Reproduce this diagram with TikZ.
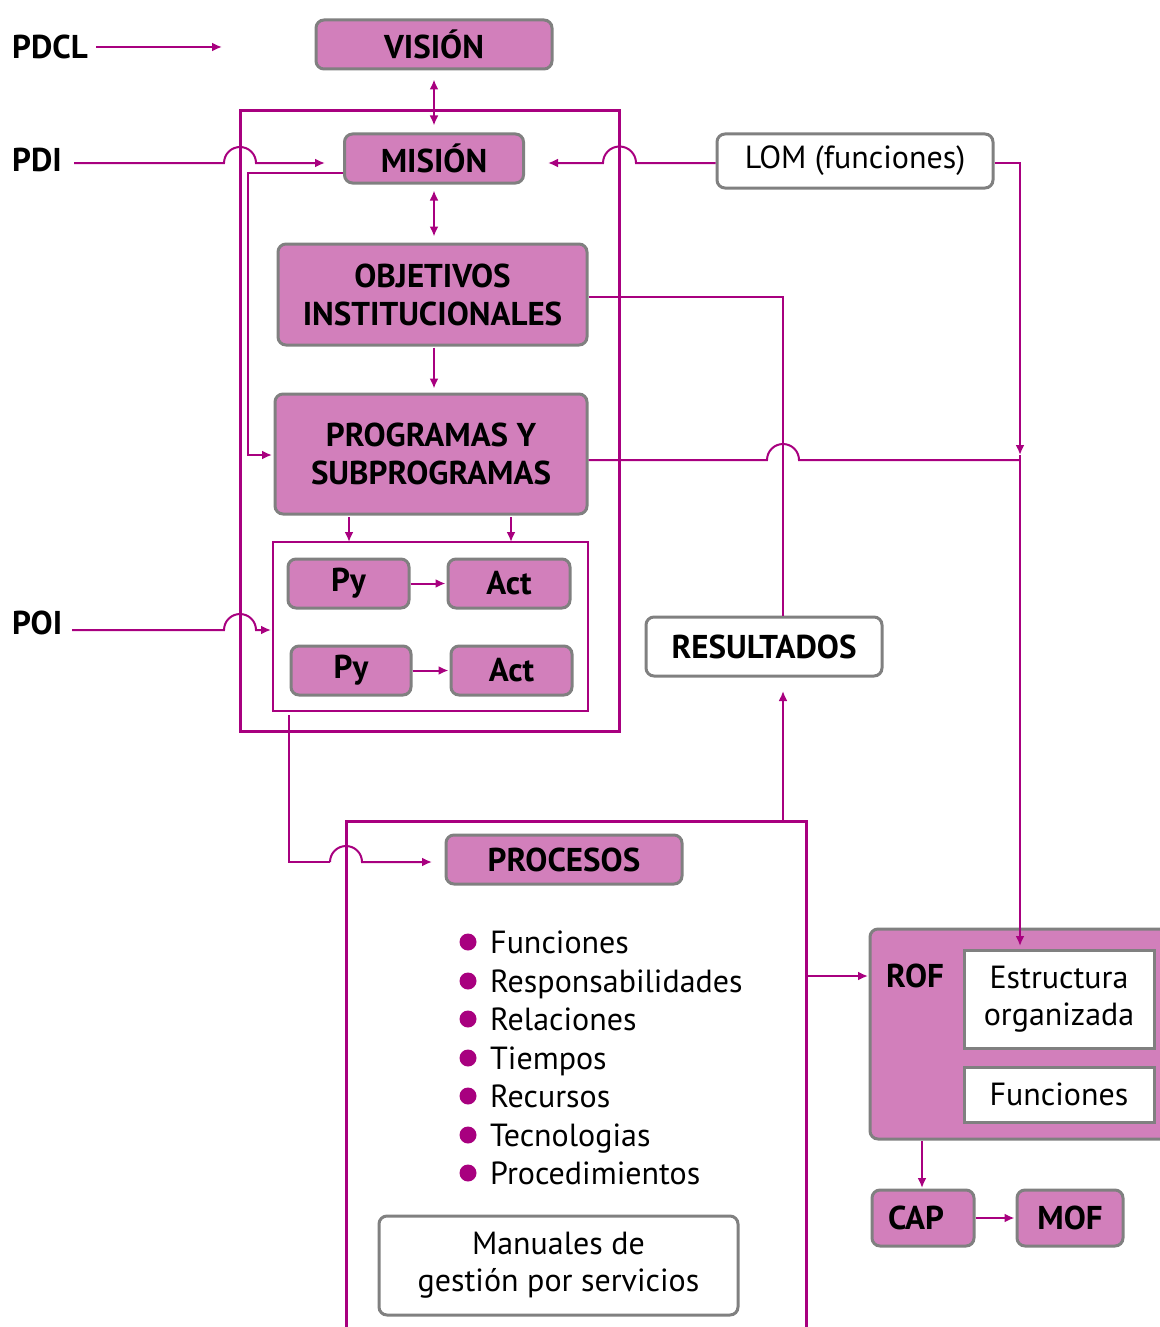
\documentclass[tikz,border=0pt]{standalone}
\usepackage{fontspec}
\setmainfont{PT Sans}
\usetikzlibrary{arrows.meta}
\definecolor{mag}{HTML}{A8007F}
\definecolor{pinkfill}{HTML}{D27FBB}
\definecolor{boxgray}{HTML}{808080}
\begin{document}
\begin{tikzpicture}[x=1pt,y=-1pt,
  pinkbox/.style={draw=boxgray, line width=3pt, fill=pinkfill, rounded corners=8pt,
    font=\fontsize{33}{38}\selectfont\bfseries, align=center, inner sep=0pt},
  whitebox/.style={draw=boxgray, line width=3pt, fill=white, rounded corners=8pt,
    font=\fontsize{32}{37}\selectfont, align=center, inner sep=0pt},
  squarebox/.style={whitebox, rounded corners=0pt},
  conn/.style={draw=mag, line width=2pt},
  arr/.style={conn, -{Latex[length=10pt,width=9pt]}},
  darr/.style={conn, {Latex[length=10pt,width=9pt]}-{Latex[length=10pt,width=9pt]}},
  frame/.style={draw=mag, line width=3pt},
  plan/.style={font=\fontsize{33}{38}\selectfont\bfseries, anchor=west, inner sep=0pt},
  item/.style={font=\fontsize{32}{36}\selectfont, anchor=base west, inner sep=0pt},
  bullet/.style={circle, fill=mag, minimum size=17pt, inner sep=0pt},
]
\useasboundingbox (0,0) rectangle (1159,1327);

% frames
\draw[frame] (240,111) rectangle (619,731);
\draw[frame, line width=2pt] (273,542) rectangle (588,711);
\draw[frame] (346,821) rectangle (806,1345);

% plan labels
\node[plan] (pdcl) at (12,47) {PDCL};
\node[plan] (pdi) at (12,160) {PDI};
\node[plan] (poi) at (12,623) {POI};

% main column
\node[pinkbox, minimum width=236pt, minimum height=49pt] (vision) at (434,44.5) {VISIÓN};
\node[pinkbox, minimum width=179pt, minimum height=49pt] (mision) at (434,158.5) {MISIÓN};
\node[pinkbox, minimum width=309pt, minimum height=101pt] (objetivos) at (432.5,294.5) {OBJETIVOS\\INSTITUCIONALES};
\node[pinkbox, minimum width=312pt, minimum height=120pt] (programas) at (431,454) {PROGRAMAS Y\\SUBPROGRAMAS};

\node[pinkbox, minimum width=121pt, minimum height=49pt] (py1) at (348.5,583.5) {Py};
\node[pinkbox, minimum width=122pt, minimum height=49pt] (act1) at (509,583.5) {Act};
\node[pinkbox, minimum width=120pt, minimum height=49pt] (py2) at (351,670.5) {Py};
\node[pinkbox, minimum width=121pt, minimum height=49pt] (act2) at (511.5,670.5) {Act};

\node[whitebox, minimum width=276pt, minimum height=54pt] (lom) at (855,161) {LOM (funciones)};
\node[whitebox, minimum width=236pt, minimum height=59pt, font=\fontsize{33}{38}\selectfont\bfseries] (resultados) at (764,646.5) {RESULTADOS};

% processes
\node[pinkbox, minimum width=236pt, minimum height=49pt] (procesos) at (564,859.5) {PROCESOS};
\foreach \y/\t [count=\i] in {942/Funciones, 981/Responsabilidades, 1019/Relaciones,
    1058/Tiempos, 1096/Recursos, 1135/Tecnologias, 1173/Procedimientos}{
  \node[bullet] (b\i) at (468,\y) {};
  \node[item] (t\i) at (490,\y+11) {\t};
}
\node[whitebox, minimum width=359pt, minimum height=99pt] (manuales) at (558.5,1265.5) {Manuales de\\gestión por servicios};

% organisation documents
\node[pinkbox, minimum width=304pt, minimum height=210pt] (rof) at (1022,1034) {};
\node[plan] (roflabel) at (886,976) {ROF};
\node[squarebox, minimum width=190pt, minimum height=98pt] (estructura) at (1059,999) {Estructura\\organizada};
\node[squarebox, minimum width=190pt, minimum height=55pt] (funciones) at (1059,1094.5) {Funciones};
\node[pinkbox, minimum width=102pt, minimum height=56pt] (cap) at (923,1218) {\hspace*{-14pt}CAP};
\node[pinkbox, minimum width=106pt, minimum height=56pt] (mof) at (1070,1218) {MOF};

% connectors
\draw[arr] (pdcl.east) ++(8,0) -- (222,47);
\draw[darr, shorten <=9pt, shorten >=7pt] (vision.south) -- (mision.north);
\draw[darr, shorten <=6pt, shorten >=6pt] (mision.south) -- (mision.south |- objetivos.north);
\draw[arr, shorten <=1pt, shorten >=4pt] (objetivos.south -| mision.south) -- (mision.south |- programas.north);

\draw[arr] (74,163) -- (224,163) arc[start angle=180, end angle=0, radius=16pt] -- (325,163);
\draw[arr] (lom.west |- 0,163) -- (636,163) arc[start angle=0, end angle=180, radius=16.5pt] -- (548,163);
\draw[arr] (mision.west |- 0,173) -- (248,173) -- (248,455) -- (272,455);

\draw[arr] (lom.east |- 0,163) -| (1020,455);
\draw[arr] (1020,455) -- (1020,946);
\draw[conn] (objetivos.east |- 0,297) -| (783,616);
\draw[conn] (programas.east |- 0,460) -- (767,460) arc[start angle=180, end angle=0, radius=16pt] -- (1020,460);

\draw[arr] (349,517) -- (349,542);
\draw[arr] (511,517) -- (511,542);
\draw[arr, shorten >=1pt] (py1.east) -- (act1.west);
\draw[arr, shorten >=1pt] (py2.east) -- (act2.west);

\draw[arr] (72,630) -- (224,630) arc[start angle=180, end angle=0, radius=16pt] -- (271,630);
\draw[conn] (289,715) -- (289,862) -- (330,862);
\draw[arr] (330,862) arc[start angle=180, end angle=0, radius=16pt] -- (432,862);

\draw[arr] (783,821) -- (783,691);
\draw[arr] (806,976) -- (868,976);
\draw[arr] (922,1141) -- (922,1188);
\draw[arr, shorten >=1pt] (cap.east) -- (mof.west);
\end{tikzpicture}
\end{document}
